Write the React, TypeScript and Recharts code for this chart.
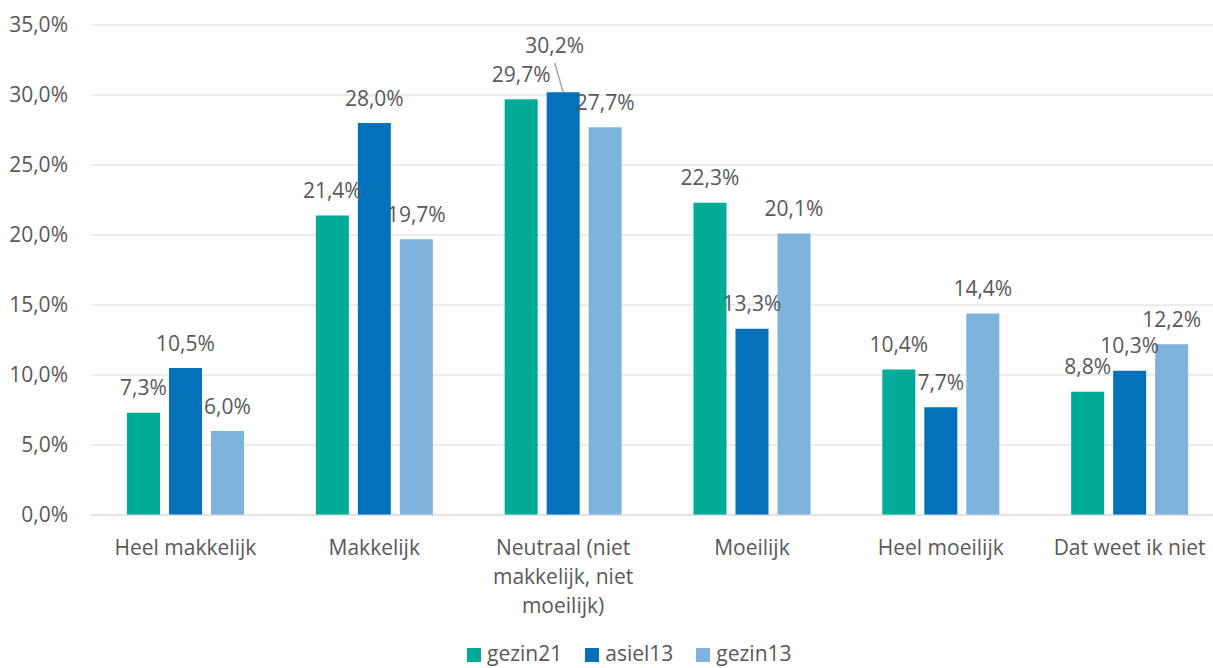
import React from 'react';
import { BarChart, Bar, XAxis, YAxis, CartesianGrid, Legend, LabelList, Text } from 'recharts';

const categories = [
  'Heel makkelijk',
  'Makkelijk',
  'Neutraal (niet makkelijk, niet moeilijk)',
  'Moeilijk',
  'Heel moeilijk',
  'Dat weet ik niet',
];
const seriesNames = ['gezin21', 'asiel13', 'gezin13'];
const gezin21 = [7.3, 21.4, 29.7, 22.3, 10.4, 8.8];
const asiel13 = [10.5, 28.0, 30.2, 13.3, 7.7, 10.3];
const gezin13 = [6.0, 19.7, 27.7, 20.1, 14.4, 12.2];
const yTicks = [0, 5, 10, 15, 20, 25, 30, 35];

const COLORS: Record<string, string> = {
  gezin21: '#00AC98',
  asiel13: '#0571BB',
  gezin13: '#7EB4DC',
};
const TEXT = '#595959';
const FONT = '"Open Sans", sans-serif';
const FS = 21;

// label moved away from its bar with a leader line (series, category index, shift)
const MOVED = { series: 'asiel13', index: 2, dx: -8.5, dy: -22 };

const data = categories.map((name, i) => ({
  name,
  gezin21: gezin21[i],
  asiel13: asiel13[i],
  gezin13: gezin13[i],
}));

const fmt = (v: number) => v.toFixed(1).replace('.', ',') + '%';

const makeLabel = (series: string) => (props: any) => {
  const { x, y, width, value, index } = props;
  const cx = Number(x) + Number(width) / 2;
  const top = Number(y);
  if (series === MOVED.series && index === MOVED.index) {
    const lx = cx + MOVED.dx;
    const ly = top - 17.5 + MOVED.dy;
    return (
      <g>
        <line x1={lx} y1={top - 29.5} x2={cx} y2={top} stroke="#A6A6A6" strokeWidth={1.5} />
        <text x={lx} y={ly} textAnchor="middle" fill={TEXT} fontSize={FS} fontFamily={FONT}>
          {fmt(Number(value))}
        </text>
      </g>
    );
  }
  return (
    <text x={cx} y={top - 17.5} textAnchor="middle" fill={TEXT} fontSize={FS} fontFamily={FONT}>
      {fmt(Number(value))}
    </text>
  );
};

const XTick = (props: any) => {
  const { x, y, payload } = props;
  return (
    <Text
      x={x}
      y={Number(y) + 25}
      width={156}
      lineHeight={29}
      textAnchor="middle"
      verticalAnchor="start"
      fill={TEXT}
      style={{ fontSize: FS, fontFamily: FONT }}
    >
      {payload.value}
    </Text>
  );
};

const LegendContent = () => (
  <div style={{ display: 'flex', alignItems: 'center', fontFamily: FONT, fontSize: FS, color: TEXT, lineHeight: '24px' }}>
    {seriesNames.map((s, i) => (
      <div key={s} style={{ display: 'flex', alignItems: 'center', marginRight: i < seriesNames.length - 1 ? 23 : 0 }}>
        <span style={{ display: 'inline-block', width: 14, height: 14, background: COLORS[s], marginRight: 6, marginTop: 3 }} />
        <span>{s}</span>
      </div>
    ))}
  </div>
);

export default function App() {
  return (
    <div style={{ position: 'absolute', left: 0, top: 0, width: 1213, height: 668, overflow: 'hidden', background: '#fff' }}>
      <BarChart
        width={1240}
        height={668}
        data={data}
        margin={{ top: 25, right: 16, bottom: 53, left: 0 }}
        barSize={33}
        barGap={9}
      >
        <CartesianGrid vertical={false} stroke="#D9D9D9" strokeWidth={1.2} />
        <XAxis
          dataKey="name"
          height={100}
          interval={0}
          tickLine={false}
          tickSize={0}
          tickMargin={0}
          axisLine={{ stroke: '#D9D9D9', strokeWidth: 1.2 }}
          tick={<XTick />}
        />
        <YAxis
          width={91}
          domain={[0, 35]}
          ticks={yTicks}
          interval={0}
          tickFormatter={fmt}
          axisLine={false}
          tickLine={false}
          tickSize={6}
          tickMargin={17}
          tick={{ fill: TEXT, fontSize: FS, fontFamily: FONT }}
        />
        <Legend
          verticalAlign="middle"
          align="center"
          content={<LegendContent />}
          wrapperStyle={{ left: 467, top: 641, width: 420, height: 24, position: 'absolute' }}
        />
        {seriesNames.map((s) => (
          <Bar key={s} dataKey={s} fill={COLORS[s]} isAnimationActive={false}>
            <LabelList dataKey={s} content={makeLabel(s)} />
          </Bar>
        ))}
      </BarChart>
    </div>
  );
}
